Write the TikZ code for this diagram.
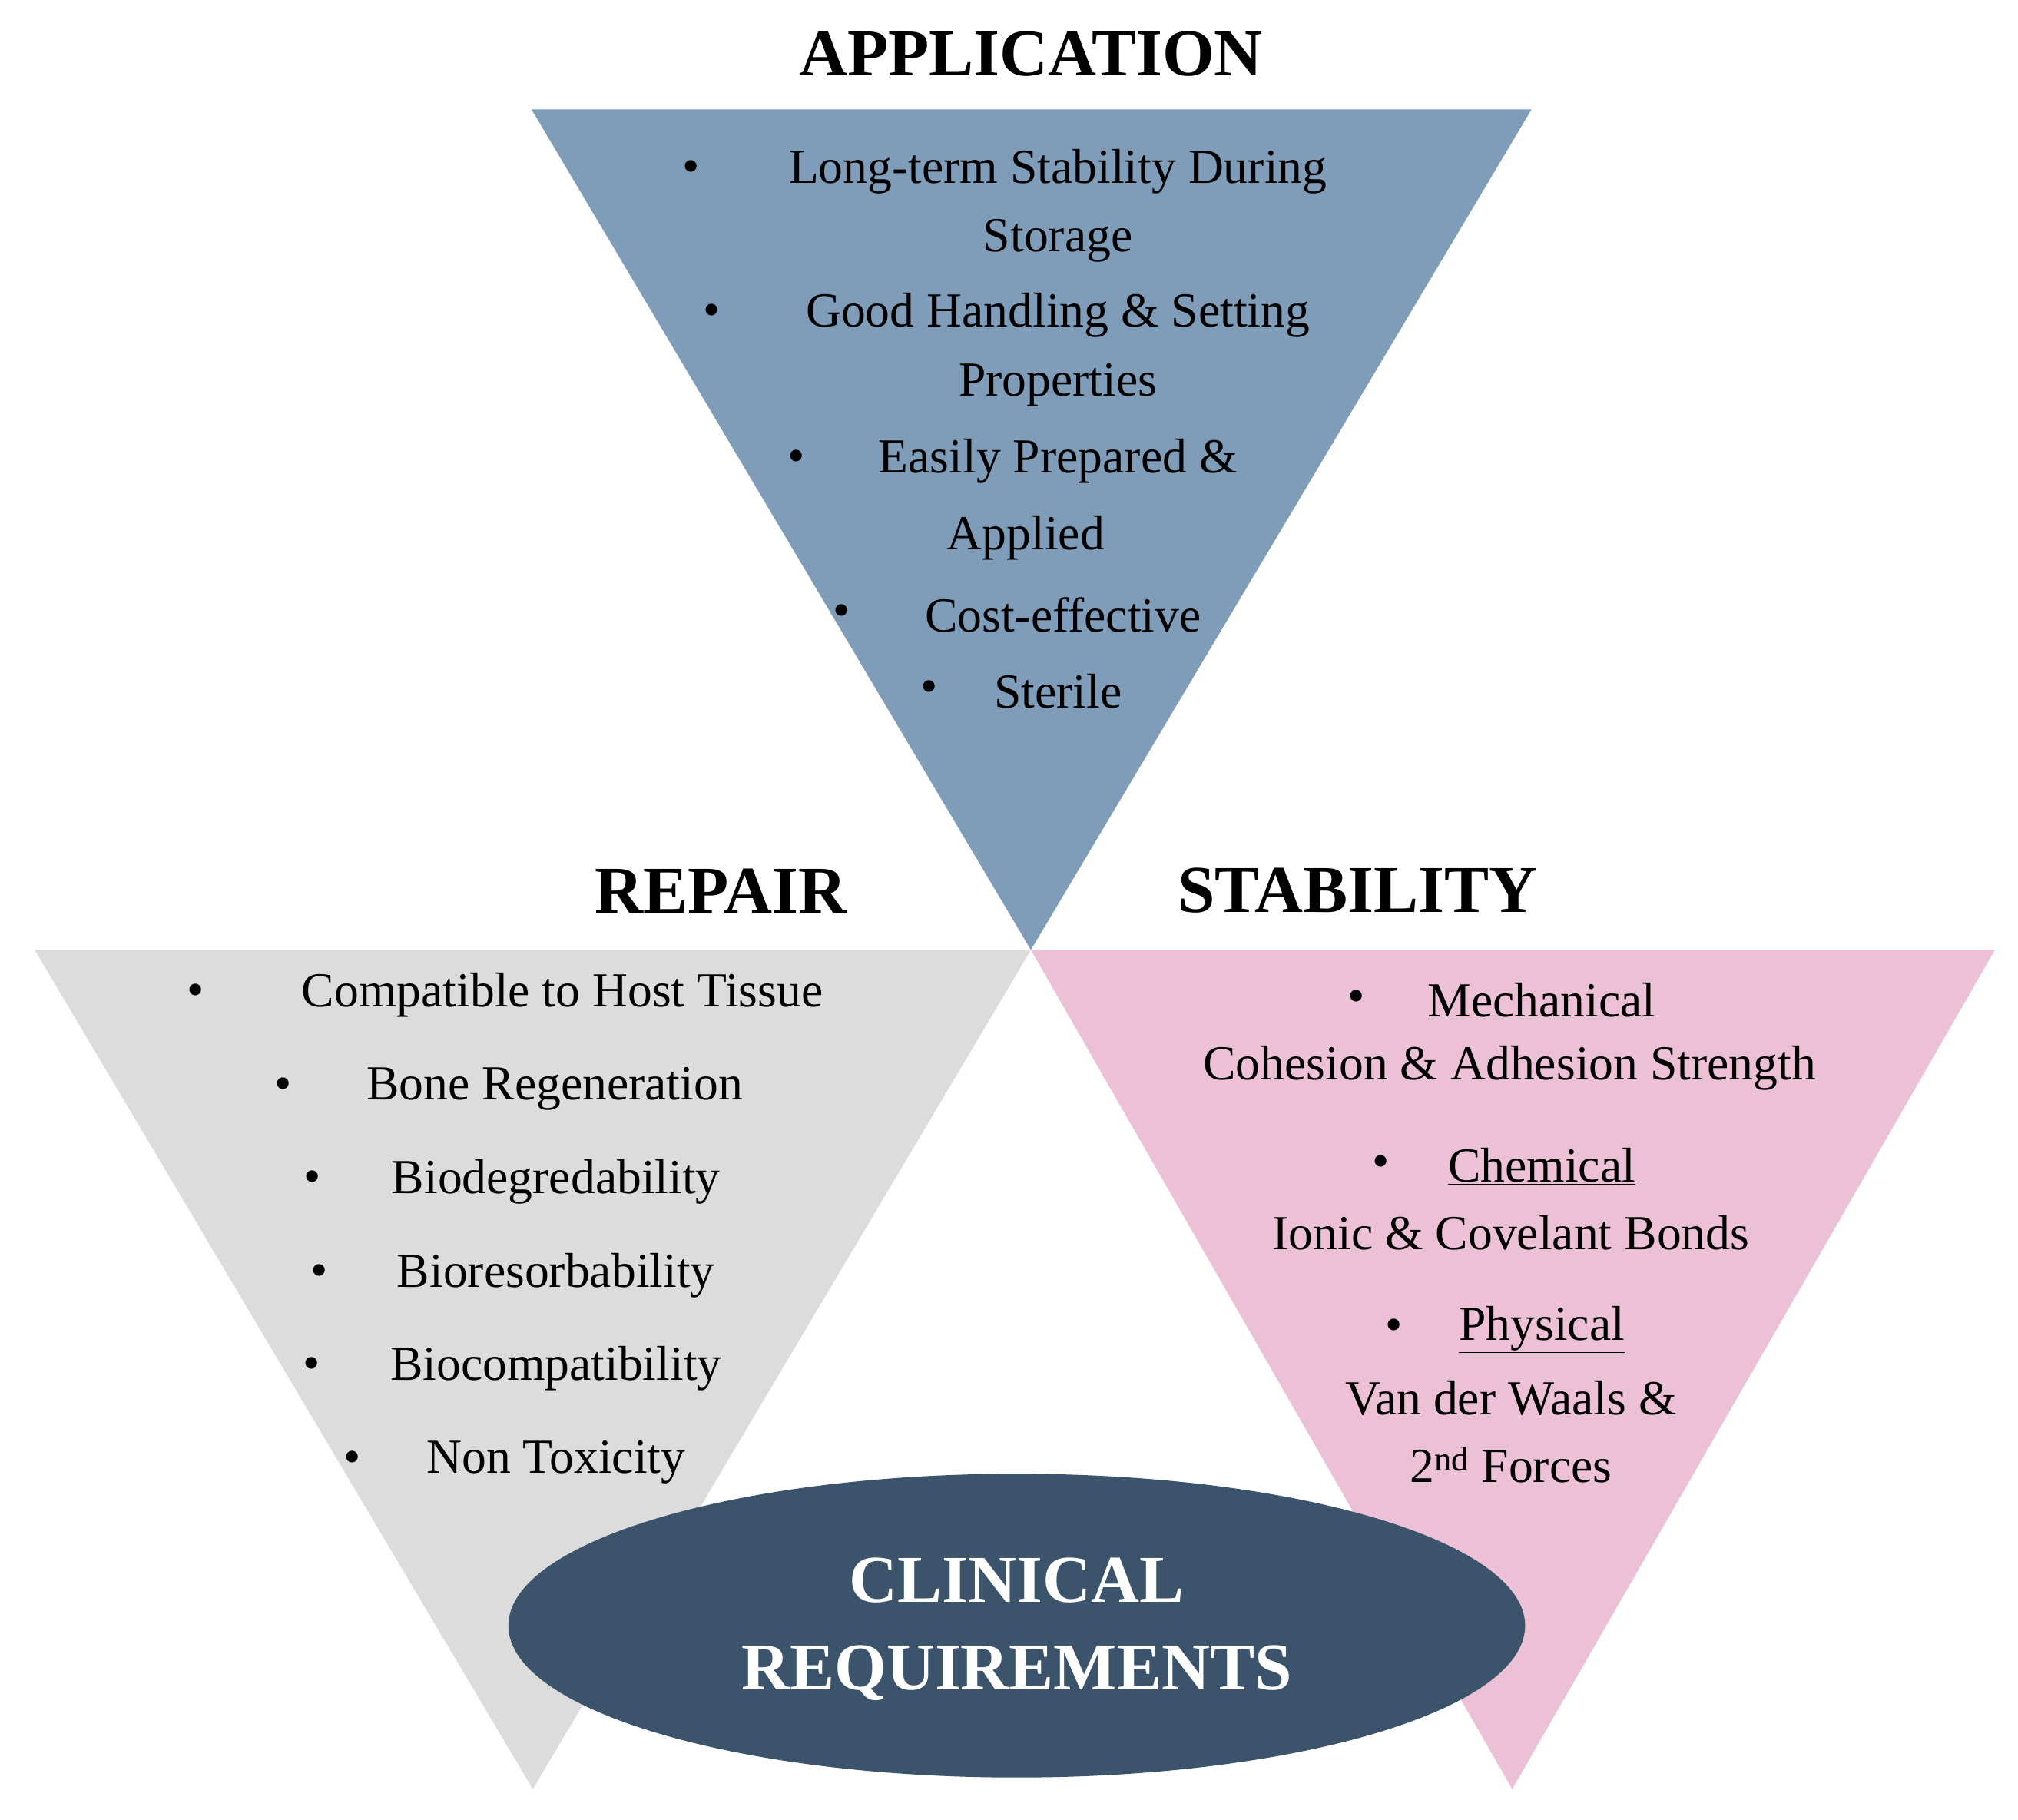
\documentclass[tikz,border=0pt]{standalone}
\usepackage{fontspec}
\setmainfont{Liberation Serif}
\usetikzlibrary{shapes.geometric}
\definecolor{topc}{HTML}{7F9DB9}
\definecolor{leftc}{HTML}{DCDCDC}
\definecolor{rightc}{HTML}{ECC1D6}
\definecolor{ellc}{HTML}{3B536B}
\definecolor{arcc}{HTML}{D5DFE8}
\begin{document}
\begin{tikzpicture}[x=1pt,y=-1pt,
  txt/.style={inner sep=0pt,font=\fontsize{38}{40}\selectfont},
  bul/.style={inner sep=0pt,font=\fontsize{38}{40}\selectfont},
  ttl/.style={inner sep=0pt,font=\fontsize{52}{54}\selectfont\bfseries}]
\useasboundingbox (0,0) rectangle (1568,1414);
\fill[white] (0,0) rectangle (1568,1414);
% arc
\draw[arcc,line width=45pt] (801,800) ++(170:485) arc[start angle=170,end angle=10,radius=485];
% triangles
\fill[topc] (413,85) -- (1190,85) -- (801,738) -- cycle;
\fill[leftc] (27,738) -- (801,738) -- (414,1390) -- cycle;
\fill[rightc] (801,738) -- (1550,738) -- (1175,1390) -- cycle;
% ellipse
\node[ellipse,fill=ellc,minimum width=790,minimum height=236,inner sep=0pt] (ell) at (790,1263) {};
\node[ttl,text=white] (cl1) at (790,1228) {CLINICAL};
\node[ttl,text=white] (cl2) at (790,1300) {REQUIREMENTS};
% titles
\node[ttl] (tapp) at (801,42) {APPLICATION};
\node[ttl] (trep) at (560,692) {REPAIR};
\node[ttl] (tsta) at (1055,692) {STABILITY};
% top bullets
\node[bul] (b1) at (537,133) {•};
\node[txt] (a1) at (822,133) {Long-term Stability During};
\node[txt] (a1b) at (822,187) {Storage};
\node[bul] (b2) at (553,245) {•};
\node[txt] (a2) at (822,245) {Good Handling \& Setting};
\node[txt] (a2b) at (822,299) {Properties};
\node[bul] (b3) at (619,358) {•};
\node[txt] (a3) at (822,358) {Easily Prepared \&};
\node[txt] (a3b) at (797,418) {Applied};
\node[bul] (b4) at (654,478) {•};
\node[txt] (a4) at (826,478) {Cost-effective};
\node[bul] (b5) at (722,537) {•};
\node[txt] (a5) at (822,537) {Sterile};
% left bullets
\node[bul] (l1b) at (152,773) {•};
\node[txt] (l1) at (437,773) {Compatible to Host Tissue};
\node[bul] (l2b) at (220,846) {•};
\node[txt] (l2) at (431,846) {Bone Regeneration};
\node[bul] (l3b) at (243,918) {•};
\node[txt] (l3) at (432,918) {Biodegredability};
\node[bul] (l4b) at (248,991) {•};
\node[txt] (l4) at (432,991) {Bioresorbability};
\node[bul] (l5b) at (242,1063) {•};
\node[txt] (l5) at (432,1063) {Biocompatibility};
\node[bul] (l6b) at (274,1136) {•};
\node[txt] (l6) at (432,1136) {Non Toxicity};
% right bullets
\node[bul] (r1b) at (1054,778) {•};
\node[txt] (r1) at (1198,778) {\underline{Mechanical}};
\node[txt] (r1c) at (1173,830) {Cohesion \& Adhesion Strength};
\node[bul] (r2b) at (1073,906) {•};
\node[txt] (r2) at (1198,906) {\underline{Chemical}};
\node[txt] (r2c) at (1174,958) {Ionic \& Covelant Bonds};
\node[bul] (r3b) at (1083,1033) {•};
\node[txt] (r3) at (1198,1033) {\underline{Physical}};
\node[txt] (r3c) at (1174,1086) {Van der Waals \&};
\node[txt] (r3d) at (1174,1138) {2\textsuperscript{nd} Forces};
\end{tikzpicture}
\end{document}
